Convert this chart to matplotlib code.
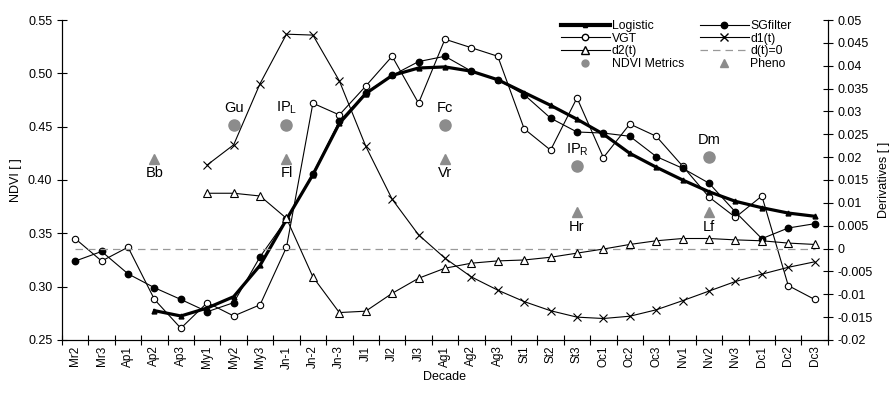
import matplotlib
matplotlib.use("Agg")
import matplotlib.pyplot as plt
from matplotlib.lines import Line2D
from matplotlib.ticker import FixedLocator, FuncFormatter
import numpy as np

plt.rcParams['font.family'] = ['Liberation Sans', 'DejaVu Sans']

decades = ["Mr2", "Mr3", "Ap1", "Ap2", "Ap3", "My1", "My2", "My3", "Jn-1", "Jn-2",
           "Jn-3", "Jl1", "Jl2", "Jl3", "Ag1", "Ag2", "Ag3", "St1", "St2", "St3",
           "Oc1", "Oc2", "Oc3", "Nv1", "Nv2", "Nv3", "Dc1", "Dc2", "Dc3"]

vgt = [0.345, 0.324, 0.337, 0.288, 0.261, 0.285, 0.2725, 0.283, 0.337, 0.472,
       0.461, 0.488, 0.516, 0.472, 0.532, 0.524, 0.516, 0.448, 0.428, 0.477,
       0.421, 0.4525, 0.441, 0.413, 0.384, 0.365, 0.385, 0.301, 0.288]

sgfilter = [0.324, 0.333, 0.312, 0.299, 0.288, 0.2765, 0.285, 0.328, 0.363, 0.406,
            0.455, 0.482, 0.498, 0.511, 0.516, 0.502, 0.494, 0.480, 0.458, 0.445,
            0.444, 0.441, 0.422, 0.411, 0.397, 0.370, 0.345, 0.355, 0.359]

# Logistic starts at Ap2
logistic = [None, None, None, 0.2775, 0.2725, 0.280, 0.2906, 0.320, 0.363, 0.405,
            0.453, 0.481, 0.498, 0.505, 0.506, 0.502, 0.494, 0.482, 0.470, 0.457,
            0.443, 0.425, 0.412, 0.400, 0.389, 0.380, 0.374, 0.369, 0.366]

# derivatives start at My1
d1 = [None, None, None, None, None, 0.0183, 0.0227, 0.0361, 0.0469, 0.0467,
      0.0367, 0.0224, 0.0108, 0.0030, -0.0021, -0.0062, -0.0091, -0.0116, -0.0136, -0.0150,
      -0.0153, -0.0148, -0.0134, -0.0114, -0.0093, -0.0072, -0.0056, -0.0041, -0.0029]

d2 = [None, None, None, None, None, 0.0121, 0.0121, 0.0115, 0.0066, -0.0062,
      -0.0140, -0.0137, -0.0098, -0.0065, -0.0043, -0.0032, -0.0027, -0.0025, -0.0019, -0.0010,
      -0.0001, 0.0009, 0.0017, 0.0022, 0.0022, 0.0019, 0.0017, 0.0012, 0.0009]

d_zero = [0.0] * len(decades)

metric_names = ["Gu", r"IP$_\mathregular{L}$", "Fc", r"IP$_\mathregular{R}$", "Dm"]
metric_pos = ["My2", "Jn-1", "Ag1", "St3", "Nv2"]
metric_vals = [0.452, 0.452, 0.452, 0.413, 0.422]

pheno_names = ["Bb", "Fl", "Vr", "Hr", "Lf"]
pheno_pos = ["Ap2", "Jn-1", "Ag1", "St3", "Nv2"]
pheno_vals = [0.420, 0.420, 0.420, 0.370, 0.370]


def arr(v):
    return np.array([np.nan if a is None else a for a in v], dtype=float)


x = np.arange(len(decades))
idx = {d: i for i, d in enumerate(decades)}

fig = plt.figure(figsize=(8.95, 3.93), dpi=100)
ax = fig.add_axes([0.0693, 0.1349, 0.8557, 0.8142])
ax2 = ax.twinx()

lw = 0.8
# left axis series
ax.plot(x, arr(vgt), color='black', lw=lw, marker='o', ms=4.6, mfc='white',
        mec='black', mew=0.8, zorder=3)
ax.plot(x, arr(sgfilter), color='black', lw=lw, marker='o', ms=4.6, mfc='black',
        mec='black', zorder=4)
ax.plot(x, arr(logistic), color='black', lw=2.3, marker='^', ms=3.5, mfc='black',
        mec='black', zorder=5)

gray = '#8c8c8c'
mx = [idx[p] for p in metric_pos]
px = [idx[p] for p in pheno_pos]
ax.plot(mx, metric_vals, ls='none', marker='o', ms=8, color=gray, zorder=2)
ax.plot(px, pheno_vals, ls='none', marker='^', ms=6.5, color=gray, zorder=2)

for xi, v, name in zip(mx, metric_vals, metric_names):
    ax.annotate(name, (xi, v), xytext=(0, 12), textcoords='offset points',
                ha='center', va='center', fontsize=10.5)
for xi, v, name in zip(px, pheno_vals, pheno_names):
    ax.annotate(name, (xi, v), xytext=(0, -10.5), textcoords='offset points',
                ha='center', va='center', fontsize=10.5)

# right axis series
ax2.plot(x, arr(d1), color='black', lw=lw, marker='x', ms=5.5, mew=0.8, zorder=3)
ax2.plot(x, arr(d2), color='black', lw=lw, marker='^', ms=5.5, mfc='white',
         mec='black', mew=0.8, zorder=3)
ax2.plot(x, d_zero, color='#999999', lw=0.9, ls=(0, (6, 4)), zorder=2)

# axes limits and ticks
ax.set_xlim(-0.5, len(decades) - 0.5)
ax.set_ylim(0.25, 0.55)
ax2.set_ylim(-0.02, 0.05)

ax.set_xticks(x)
ax.set_xticklabels(decades, rotation=90, fontsize=8.5)
ax.tick_params(axis='x', which='major', length=0, pad=4)
ax.xaxis.set_minor_locator(FixedLocator(np.arange(-0.5, len(decades) + 0.5, 1)))
ax.tick_params(axis='x', which='minor', direction='inout', length=7, width=0.8)

ax.set_yticks(np.arange(0.25, 0.551, 0.05))
ax.yaxis.set_major_formatter(FuncFormatter(lambda v, p: f"{v:.2f}"))
ax.tick_params(axis='y', direction='inout', length=7, width=0.8, labelsize=9)

ax2.set_yticks(np.arange(-0.02, 0.0501, 0.005))


def dfmt(v, p):
    v = round(v, 4)
    if abs(v) < 1e-9:
        return "0"
    return f"{v:g}"


ax2.yaxis.set_major_formatter(FuncFormatter(dfmt))
ax2.tick_params(axis='y', direction='inout', length=7, width=0.8, labelsize=9)

for a in (ax, ax2):
    a.spines['top'].set_visible(False)
    for s in ('left', 'right', 'bottom'):
        a.spines[s].set_linewidth(0.8)

ax.set_ylabel("NDVI [ ]", fontsize=9)
ax2.set_ylabel("Derivatives [ ]", fontsize=9)
ax.set_xlabel("Decade", fontsize=9, labelpad=2)

# legend (proxy handles)
handles = [
    Line2D([], [], color='black', lw=3, marker='^', ms=3, mfc='black'),
    Line2D([], [], color='black', lw=lw, marker='o', ms=4.6, mfc='white', mec='black'),
    Line2D([], [], color='black', lw=lw, marker='^', ms=5.5, mfc='white', mec='black'),
    Line2D([], [], ls='none', marker='o', ms=5, color=gray),
    Line2D([], [], color='black', lw=lw, marker='o', ms=4.6, mfc='black'),
    Line2D([], [], color='black', lw=lw, marker='x', ms=5.5),
    Line2D([], [], color='#999999', lw=0.9, ls=(0, (6, 4))),
    Line2D([], [], ls='none', marker='^', ms=6, color=gray),
]
labels = ["Logistic", "VGT", "d2(t)", "NDVI Metrics",
          "SGfilter", "d1(t)", "d(t)=0", "Pheno"]
leg = ax2.legend(handles, labels, ncol=2, frameon=False, fontsize=8.8,
                 loc='upper left', bbox_to_anchor=(0.645, 1.015),
                 handlelength=4.0, handletextpad=0.15, columnspacing=1.3,
                 labelspacing=0.05, borderaxespad=0)

fig.savefig("out.png", dpi=100)
